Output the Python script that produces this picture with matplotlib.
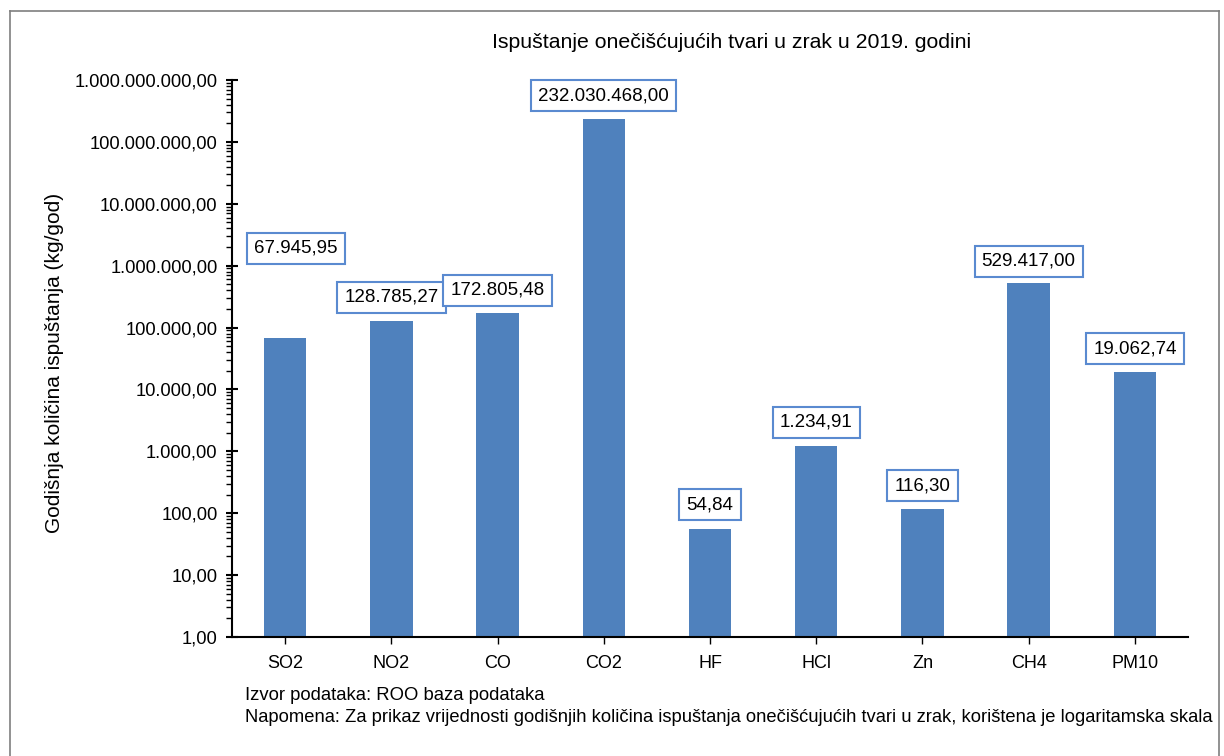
import matplotlib.pyplot as plt
from matplotlib.ticker import FuncFormatter, LogLocator
from matplotlib.lines import Line2D

plt.rcParams['font.family'] = ['Liberation Sans', 'DejaVu Sans']

categories = ["SO2", "NO2", "CO", "CO2", "HF", "HCl", "Zn", "CH4", "PM10"]
values = [67945.95, 128785.27, 172805.48, 232030468.00, 54.84, 1234.91, 116.30, 529417.00, 19062.74]
labels = ["67.945,95", "128.785,27", "172.805,48", "232.030.468,00", "54,84",
          "1.234,91", "116,30", "529.417,00", "19.062,74"]


def hr_format(v, pos=None):
    s = "{:,.2f}".format(v)
    return s.replace(",", "X").replace(".", ",").replace("X", ".")


fig = plt.figure(figsize=(12.24, 7.56), dpi=100)
ax = fig.add_axes([232 / 1224, 1 - 637 / 756, 956 / 1224, 557 / 756])

x = list(range(len(categories)))
ax.bar(x, values, width=0.4, color="#4F81BD", zorder=2)
ax.set_yscale("log")
ax.set_ylim(1, 1e9)
ax.set_xlim(-0.5, len(categories) - 0.5)
ax.yaxis.set_major_locator(LogLocator(base=10, numticks=12))
ax.yaxis.set_minor_locator(LogLocator(base=10, subs=range(2, 10), numticks=12))
ax.yaxis.set_major_formatter(FuncFormatter(hr_format))
ax.yaxis.set_minor_formatter(FuncFormatter(lambda v, p: ""))
ax.set_xticks(x)
ax.set_xticklabels(categories, fontsize=13)
ax.tick_params(axis="y", which="major", direction="inout", length=9, width=1.5, labelsize=13.2, pad=6)
ax.tick_params(axis="y", which="minor", direction="out", length=4, width=1)
ax.tick_params(axis="x", direction="out", length=5, width=1, pad=8)
ax.spines["top"].set_visible(False)
ax.spines["right"].set_visible(False)
ax.spines["left"].set_linewidth(1.5)
ax.spines["bottom"].set_linewidth(1.5)

fig.text(55 / 1224, 1 - 363 / 756, "Godišnja količina ispuštanja (kg/god)",
         rotation=90, ha="center", va="center", fontsize=15)

# data labels in pixel offsets, SO2 label moved up by hand in the original
offsets = [(11, 81), (0, 15), (0, 14), (0, 15), (0, 16), (0, 15), (0, 15), (0, 13), (0, 15)]
for xi, v, lab, off in zip(x, values, labels, offsets):
    ax.annotate(lab, (xi, v), xytext=off, textcoords="offset pixels",
                ha="center", va="bottom", fontsize=13.5, zorder=3,
                bbox=dict(boxstyle="square,pad=0.38", fc="white", ec="#5A8AD0", lw=1.5))

fig.text(732 / 1224, 1 - 43 / 756, "Ispuštanje onečišćujućih tvari u zrak u 2019. godini",
         ha="center", va="center", fontsize=15.3)
fig.text(245 / 1224, 1 - 695 / 756, "Izvor podataka: ROO baza podataka",
         ha="left", va="center", fontsize=13.3)
fig.text(245 / 1224, 1 - 718 / 756,
         "Napomena: Za prikaz vrijednosti godišnjih količina ispuštanja onečišćujućih tvari u zrak, korištena je logaritamska skala",
         ha="left", va="center", fontsize=13.2)

# frame around the chart
fx0, fx1, fy = 10 / 1224, 1219 / 1224, 1 - 11 / 756
for xs, ys in [([fx0, fx0], [0, fy]), ([fx0, fx1], [fy, fy]), ([fx1, fx1], [fy, 0])]:
    fig.add_artist(Line2D(xs, ys, color="#7f7f7f", lw=1.2, zorder=6))

fig.savefig("out.png", dpi=100)
